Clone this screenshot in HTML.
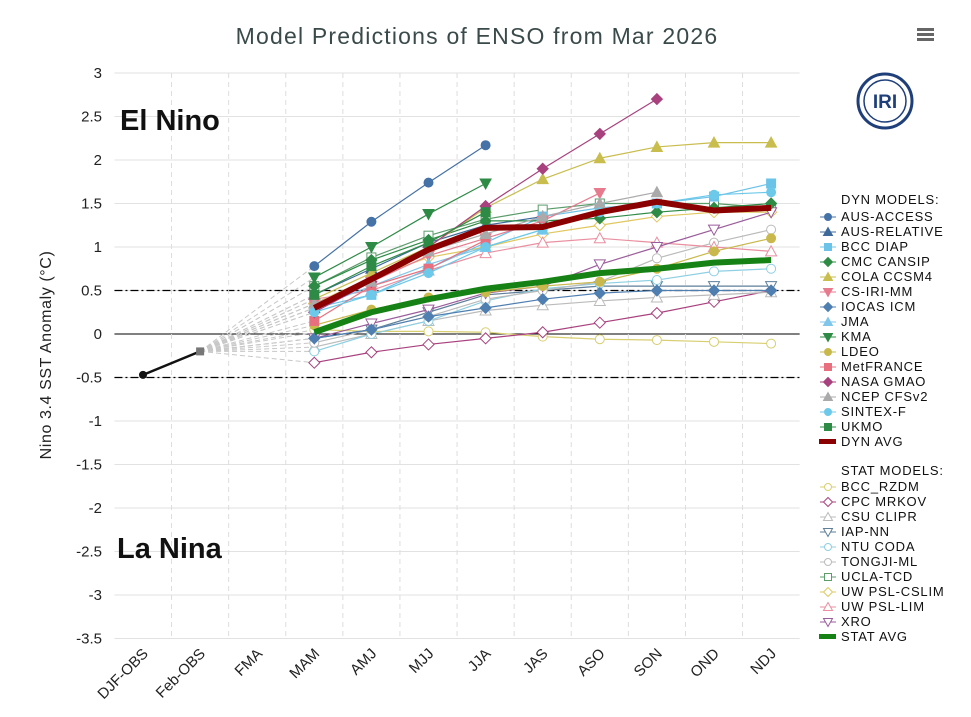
<!DOCTYPE html>
<html><head><meta charset="utf-8">
<style>
body{margin:0;background:#fff;font-family:"Liberation Sans",sans-serif;}
svg text{font-family:"Liberation Sans","DejaVu Sans",sans-serif;}
</style></head>
<body>
<svg id="c" width="971" height="712" xmlns="http://www.w3.org/2000/svg">
<text x="477" y="44" text-anchor="middle" font-size="23" letter-spacing="1.2" fill="#3a4a4a">Model Predictions of ENSO from Mar 2026</text>
<g><rect x="917" y="28" width="17" height="3" fill="#666"/><rect x="917" y="33" width="17" height="3" fill="#666"/><rect x="917" y="38" width="17" height="3" fill="#666"/></g>
<g><circle cx="885" cy="101" r="27" fill="#fff" stroke="#1f3f7a" stroke-width="3"/><circle cx="885" cy="101" r="21" fill="none" stroke="#1f3f7a" stroke-width="1.5"/><text x="885" y="108" text-anchor="middle" font-size="19" font-family="Liberation Serif" fill="#1f3f7a" font-weight="bold">IRI</text></g>
<text transform="translate(51,355) rotate(-90)" text-anchor="middle" font-size="16" letter-spacing="0.6" fill="#222">Nino 3.4  SST Anomaly (°C)</text>
<g id="grid"></g><g id="marks"></g><g id="legend"></g>
<text x="120" y="130" font-size="29" font-weight="bold" fill="#111">El Nino</text>
<text x="117" y="558" font-size="29" font-weight="bold" fill="#111">La Nina</text>
</svg>
<script>
const categories=["DJF-OBS","Feb-OBS","FMA","MAM","AMJ","MJJ","JJA","JAS","ASO","SON","OND","NDJ"];
const yTicks=[3,2.5,2,1.5,1,0.5,0,-0.5,-1,-1.5,-2,-2.5,-3,-3.5];
const obsValues=[-0.47,-0.2];
// forecast values start at MAM (index 3)
const dynNames=["AUS-ACCESS","AUS-RELATIVE","BCC DIAP","CMC CANSIP","COLA CCSM4","CS-IRI-MM","IOCAS ICM","JMA","KMA","LDEO","MetFRANCE","NASA GMAO","NCEP CFSv2","SINTEX-F","UKMO","DYN AVG"];
const ausAccess=[0.78,1.29,1.74,2.17];
const ausRelative=[0.45,0.75,1.05,1.25,1.35];
const bccDiap=[0.3,0.45,0.75,1.05,1.35,1.45,1.5,1.58,1.73];
const cmcCansip=[0.55,0.85,1.08,1.3,1.3,1.33,1.4,1.45,1.5];
const colaCcsm4=[0.4,0.7,1.0,1.45,1.78,2.02,2.15,2.2,2.2];
const csIriMm=[0.35,0.6,0.9,1.1,1.3,1.62];
const iocasIcm=[-0.05,0.05,0.2,0.3,0.4,0.47,0.5,0.5,0.5];
const jma=[0.3,0.55,0.8,1.0,1.2];
const kma=[0.65,1.0,1.38,1.73];
const ldeo=[0.1,0.28,0.42,0.48,0.55,0.6,0.75,0.95,1.1];
const metFrance=[0.15,0.55,0.75,1.08];
const nasaGmao=[0.25,0.6,1.0,1.47,1.9,2.3,2.7];
const ncepCfsv2=[0.35,0.6,0.95,1.15,1.35,1.5,1.63];
const sintexF=[0.25,0.45,0.7,1.0,1.2,1.4,1.5,1.6,1.63];
const ukmo=[0.45,0.78,1.05,1.4];
const dynAvg=[0.3,0.63,0.97,1.22,1.23,1.4,1.52,1.42,1.45];
const statNames=["BCC_RZDM","CPC MRKOV","CSU CLIPR","IAP-NN","NTU CODA","TONGJI-ML","UCLA-TCD","UW PSL-CSLIM","UW PSL-LIM","XRO","STAT AVG"];
const bccRzdm=[0.05,0.03,0.03,0.02,-0.03,-0.06,-0.07,-0.09,-0.11];
const cpcMrkov=[-0.33,-0.21,-0.12,-0.05,0.02,0.13,0.24,0.37,0.5];
const csuClipr=[-0.15,0.0,0.15,0.27,0.33,0.38,0.42,0.45,0.48];
const iapNn=[-0.05,0.05,0.25,0.45,0.5,0.55,0.55,0.55,0.55];
const ntuCoda=[-0.2,0.0,0.15,0.38,0.52,0.58,0.62,0.72,0.75];
const tongjiMl=[-0.1,0.05,0.2,0.4,0.5,0.6,0.87,1.05,1.2];
const uclaTcd=[0.55,0.88,1.13,1.32,1.43,1.5,1.5,1.5,1.45];
const uwCslim=[0.35,0.65,0.88,1.0,1.15,1.25,1.35,1.4,1.4];
const uwLim=[0.4,0.5,0.73,0.93,1.05,1.1,1.05,1.0,0.95];
const xro=[-0.05,0.12,0.28,0.47,0.55,0.8,1.0,1.2,1.4];
const statAvg=[0.02,0.25,0.4,0.52,0.6,0.7,0.75,0.82,0.85];

const dynSeries=[[ausAccess,"#4572a7","circle",1],[ausRelative,"#3d6a9a","tri",1],[bccDiap,"#6cc3e8","square",1],[cmcCansip,"#2e8b46","diamond",1],[colaCcsm4,"#c9bd4e","tri",1],[csIriMm,"#e87a8e","tridown",1],[iocasIcm,"#4f7fb0","diamond",1],[jma,"#7fc6ea","tri",1],[kma,"#2e8b46","tridown",1],[ldeo,"#c9b94c","circle",1],[metFrance,"#e8707e","square",1],[nasaGmao,"#a8417e","diamond",1],[ncepCfsv2,"#aaaaaa","tri",1],[sintexF,"#6cc9ea","circle",1],[ukmo,"#2e8b46","square",1],[dynAvg,"#8b0000","line",6]];
const statSeries=[[bccRzdm,"#d8cf70","circle",0],[cpcMrkov,"#a8417e","diamond",0],[csuClipr,"#bbbbbb","tri",0],[iapNn,"#5e7e99","tridown",0],[ntuCoda,"#8ecfe2","circle",0],[tongjiMl,"#bbbbbb","circle",0],[uclaTcd,"#5a9c6a","square",0],[uwCslim,"#e0c760","diamond",0],[uwLim,"#e98fa0","tri",0],[xro,"#9a5c9a","tridown",0],[statAvg,"#168216","line",6]];

const NS="http://www.w3.org/2000/svg";
const x0=143,dx=57.1,y0=334,ky=87;
const X=i=>x0+i*dx, Y=v=>y0-v*ky;
function mk(tag,attrs,parent){const e=document.createElementNS(NS,tag);for(const k in attrs)e.setAttribute(k,attrs[k]);parent.appendChild(e);return e;}
const grid=document.getElementById('grid'),marks=document.getElementById('marks'),legend=document.getElementById('legend');
const left=X(-0.5),right=X(categories.length-0.5);
yTicks.forEach(t=>{
  const st=t===0?"#000":"#e2e2e2";
  const l=mk('line',{x1:left,x2:right,y1:Y(t),y2:Y(t),stroke:st,'stroke-width':1},grid);
  
  
  if(t===0.5||t===-0.5){const d=mk('line',{x1:left,x2:right,y1:Y(t),y2:Y(t),stroke:"#000",'stroke-width':1.2,'stroke-dasharray':'8,3,2,3'},grid);
    
    }
  const tx=mk('text',{x:102,y:Y(t)+5,'text-anchor':'end','font-size':15,fill:'#222'},grid);tx.textContent=t;
  
  
});
categories.forEach((c,i)=>{
  if(i<categories.length-1){const v=mk('line',{x1:X(i+0.5),x2:X(i+0.5),y1:Y(3),y2:Y(-3.5),stroke:'#ddd','stroke-dasharray':'5,4'},grid);
    
    }
  const t=mk('text',{transform:`translate(${X(i)+6},${Y(-3.5)+16}) rotate(-45)`,'text-anchor':'end','font-size':15,fill:'#222'},grid);t.textContent=c;
  
  
});
function marker(kind,x,y,col,filled,parent,r){
  r=r||4.5;const f=filled?col:'#fff';let e;
  if(kind==='circle')e=mk('circle',{cx:x,cy:y,r:r,fill:f,stroke:col},parent);
  else if(kind==='square')e=mk('rect',{x:x-r,y:y-r,width:2*r,height:2*r,fill:f,stroke:col},parent);
  else if(kind==='diamond')e=mk('path',{d:`M${x},${y-r-1}L${x+r+1},${y}L${x},${y+r+1}L${x-r-1},${y}Z`,fill:f,stroke:col},parent);
  else if(kind==='tri')e=mk('path',{d:`M${x},${y-r-1}L${x+r+1},${y+r}L${x-r-1},${y+r}Z`,fill:f,stroke:col},parent);
  else if(kind==='tridown')e=mk('path',{d:`M${x},${y+r+1}L${x+r+1},${y-r}L${x-r-1},${y-r}Z`,fill:f,stroke:col},parent);
  return e;
}
const all=dynSeries.map((s,i)=>[...s,dynNames[i]]).concat(statSeries.map((s,i)=>[...s,statNames[i]]));
all.forEach(s=>{const d=mk('line',{x1:X(1),y1:Y(obsValues[1]),x2:X(3),y2:Y(s[0][0]),stroke:'#c8c8c8','stroke-dasharray':'5,3'},marks);
  
  });
function drawSeries(s,filledDefault){
  const [vals,col,kind,w,name]=s;
  const g=mk('g',{},marks);
  
  
  const pts=vals.map((v,i)=>X(i+3)+','+Y(v)).join(' ');
  mk('polyline',{points:pts,fill:'none',stroke:col,'stroke-width':kind==='line'?w:1.2,'stroke-linejoin':'round'},g);
  if(kind!=='line')vals.forEach((v,i)=>{const m=marker(kind,X(i+3),Y(v),col,filledDefault,g);
    
    });
}
statSeries.forEach((s,i)=>{if(s[2]!=='line')drawSeries([...s,statNames[i]],false);});
dynSeries.forEach((s,i)=>{if(s[2]!=='line')drawSeries([...s,dynNames[i]],true);});
drawSeries([...statSeries[10],statNames[10]],false);
drawSeries([...dynSeries[15],dynNames[15]],true);
const og=mk('g',{},marks);


mk('line',{x1:X(0),y1:Y(obsValues[0]),x2:X(1),y2:Y(obsValues[1]),stroke:'#111','stroke-width':2.5},og);
mk('circle',{cx:X(0),cy:Y(obsValues[0]),r:4,fill:'#111'},og);
mk('rect',{x:X(1)-4,y:Y(obsValues[1])-4,width:8,height:8,fill:'#777'},og);
function head(t,y){const e=mk('text',{x:841,y:y,'font-size':13,'letter-spacing':0.8,fill:'#111'},legend);e.textContent=t;
  
  }
head("DYN MODELS:",204);
dynSeries.forEach((s,i)=>legendEntry(s,dynNames[i],221+i*15,true));
head("STAT MODELS:",475);
statSeries.forEach((s,i)=>legendEntry(s,statNames[i],491+i*15,false));
function legendEntry(s,name,y,filled){
  const g=mk('g',{},legend);
  
  
  if(s[2]==='line')mk('rect',{x:819,y:y-7,width:17,height:5,fill:s[1]},g);
  else{mk('line',{x1:820,x2:836,y1:y-4,y2:y-4,stroke:s[1]},g);marker(s[2],828,y-4,s[1],filled,g,3.5);}
  const t=mk('text',{x:841,y:y,'font-size':13,'letter-spacing':0.8,fill:'#111'},g);t.textContent=name;
}
</script>
</body></html>
